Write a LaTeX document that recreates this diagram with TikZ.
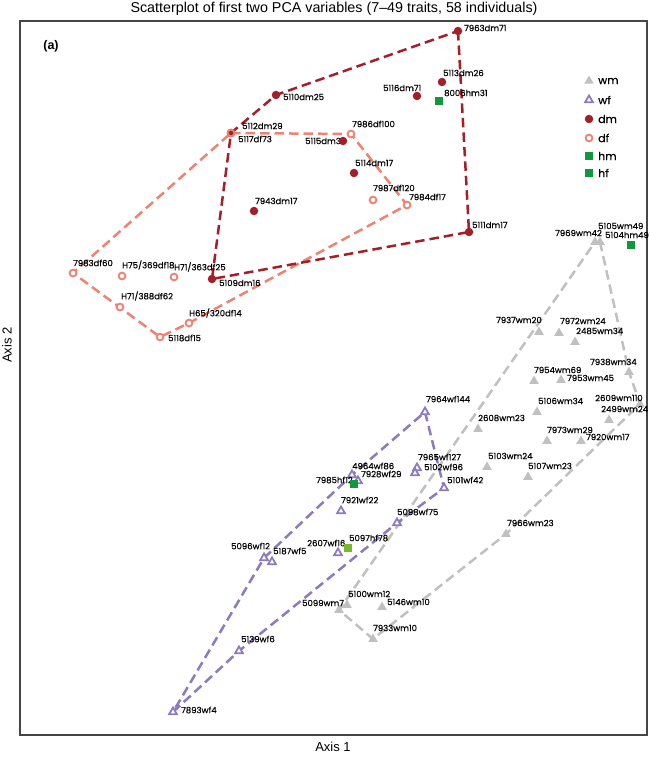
\documentclass[tikz,border=0pt]{standalone}
\usepackage{fontspec}
\setmainfont{Liberation Sans}
\newfontfamily\lblfont[FakeBold=0.5]{Poppins}
\usetikzlibrary{shapes.geometric}
\pgfdeclarelayer{bg}
\pgfsetlayers{bg,main}
\definecolor{dmc}{RGB}{163,31,42}
\definecolor{dfc}{RGB}{238,130,115}
\definecolor{wmc}{RGB}{192,192,192}
\definecolor{wfc}{RGB}{140,123,190}
\definecolor{hmc}{RGB}{16,152,62}
\definecolor{hfc}{RGB}{120,184,42}
\definecolor{framec}{RGB}{70,70,70}
\tikzset{
  mwm/.style={regular polygon, regular polygon sides=3, fill=wmc, inner sep=0pt, minimum size=11pt},
  mwf/.style={regular polygon, regular polygon sides=3, draw=wfc, line width=1.8pt, fill=white, inner sep=0pt, minimum size=9pt},
  mdm/.style={circle, fill=dmc, inner sep=0pt, minimum size=8.5pt},
  mdf/.style={circle, draw=dfc, line width=1.9pt, fill=white, inner sep=0pt, minimum size=6.8pt},
  mhm/.style={rectangle, fill=hmc, inner sep=0pt, minimum size=8.5pt},
  mhf/.style={rectangle, fill=hmc, inner sep=0pt, minimum size=8.5pt},
  lbl/.style={anchor=west, inner sep=0pt, text=black, font=\lblfont\fontsize{8.5}{9}\selectfont},
  legtxt/.style={anchor=west, inner sep=0pt, text=black, font=\lblfont\fontsize{11}{12}\selectfont},
  hull/.style={dash pattern=on 9.5pt off 5pt, line width=2.5pt},
  axtxt/.style={font=\fontsize{13}{15}\selectfont},
}
\begin{document}
\begin{tikzpicture}[x=1pt,y=-1pt]
\useasboundingbox (0,0) rectangle (650,757);
% frame and axis texts
\draw[framec, line width=1.3pt] (20,21) rectangle (647,735);
\node[font=\fontsize{14.3}{16}\selectfont] (title) at (334,9) {Scatterplot of first two PCA variables (7--49 traits, 58 individuals)};
\node[axtxt] (ax1) at (333,747) {Axis 1};
\node[axtxt, rotate=90] (ax2) at (7,345) {Axis 2};
\node[font=\bfseries\fontsize{12.5}{14}\selectfont] (panel) at (51,46) {(a)};

% ---- dm ----
\node[mdm] (d7963) at (458,31) {};  \node[lbl] (ld7963) at (464,28) {7963dm71};
\node[mdm] (d5113) at (442,82) {};  \node[lbl] (ld5113) at (443,73) {5113dm26};
\node[mdm] (d5116) at (417,96) {};  \node[lbl] (ld5116) at (383,88) {5116dm71};
\node[mdm] (d5110) at (276,95) {};  \node[lbl] (ld5110) at (283,97) {5110dm25};
\node[mdm] (d5112) at (231,133) {}; \node[lbl] (ld5112) at (242,126) {5112dm29};
\node[lbl] (ld5115) at (305,141) {5115dm33}; \node[mdm] (d5115) at (343,141) {};
\node[mdm] (d5114) at (354,173) {}; \node[lbl] (ld5114) at (355,163) {5114dm17};
\node[mdm] (d5111) at (469,232) {}; \node[lbl] (ld5111) at (472,225) {5111dm17};
\node[mdm] (d7943) at (254,211) {}; \node[lbl] (ld7943) at (255,201) {7943dm17};
\node[mdm] (d5109) at (212,279) {}; \node[lbl] (ld5109) at (219,283) {5109dm16};

% ---- df ----
\node[mdf, fill=none] (f5117) at (231,133) {}; \node[lbl] (lf5117) at (238,139) {5117df73};
\node[mdf] (f7986) at (351,134) {}; \node[lbl] (lf7986) at (352,124) {7986df100};
\node[mdf] (f7987) at (373,200) {}; \node[lbl] (lf7987) at (373,188) {7987df120};
\node[mdf] (f7984) at (407,205) {}; \node[lbl] (lf7984) at (409,197) {7984df17};
\node[mdf] (f7983) at (73,273) {};  \node[lbl] (lf7983) at (73,263) {7983df60};
\node[mdf] (fH75) at (122,276) {};  \node[lbl] (lfH75) at (122,265) {H75/369df18};
\node[mdf] (fH71a) at (174,277) {}; \node[lbl] (lfH71a) at (174,267) {H71/363df25};
\node[mdf] (fH71b) at (120,307) {}; \node[lbl] (lfH71b) at (121,296) {H71/388df62};
\node[mdf] (fH65) at (189,323) {};  \node[lbl] (lfH65) at (189,313) {H65/320df14};
\node[mdf] (f5118) at (160,337) {}; \node[lbl] (lf5118) at (168,338) {5118df15};

% ---- hm / hf ----
\node[mhm] (h8006) at (439,101) {}; \node[lbl] (lh8006) at (444,93) {8006hm31};
\node[mhm] (h5104) at (631,245) {}; \node[lbl] (lh5104) at (605,235) {5104hm49};

% ---- wm ----
\node[mwm] (m7969) at (595,242) {}; \node[lbl] (lm7969) at (555,233) {7969wm42};
\node[mwm] (m5105) at (600,242) {}; \node[lbl] (lm5105) at (598,226) {5105wm49};
\node[mwm] (m7937) at (539,332) {}; \node[lbl] (lm7937) at (496,320) {7937wm20};
\node[mwm] (m7972) at (559,333) {}; \node[lbl] (lm7972) at (560,321) {7972wm24};
\node[mwm] (m2485) at (575,342) {}; \node[lbl] (lm2485) at (576,331) {2485wm34};
\node[mwm] (m7938) at (629,372) {}; \node[lbl] (lm7938) at (590,362) {7938wm34};
\node[mwm] (m7954) at (534,381) {}; \node[lbl] (lm7954) at (534,370) {7954wm69};
\node[mwm] (m7953) at (561,380) {}; \node[lbl] (lm7953) at (567,378) {7953wm45};
\node[mwm] (m5106) at (537,412) {}; \node[lbl] (lm5106) at (538,401) {5106wm34};
\node[mwm] (m2609) at (640,404) {}; \node[lbl] (lm2609) at (595,398) {2609wm110};
\node[mwm] (m2499) at (609,420) {}; \node[lbl] (lm2499) at (601,409) {2499wm24};
\node[mwm] (m2608) at (478,429) {}; \node[lbl] (lm2608) at (478,418) {2608wm23};
\node[mwm] (m7973) at (547,441) {}; \node[lbl] (lm7973) at (547,430) {7973wm29};
\node[mwm] (m7920) at (581,441) {}; \node[lbl] (lm7920) at (586,437) {7920wm17};
\node[mwm] (m5103) at (487,467) {}; \node[lbl] (lm5103) at (488,456) {5103wm24};
\node[mwm] (m5107) at (528,477) {}; \node[lbl] (lm5107) at (528,466) {5107wm23};
\node[mwm] (m7966) at (506,534) {}; \node[lbl] (lm7966) at (507,523) {7966wm23};
\node[mwm] (m5100) at (347,605) {}; \node[lbl] (lm5100) at (348,594) {5100wm12};
\node[mwm] (m5099) at (339,610) {}; \node[lbl] (lm5099) at (302,603) {5099wm7};
\node[mwm] (m5146) at (382,607) {}; \node[lbl] (lm5146) at (387,602) {5146wm10};
\node[mwm] (m7933) at (373,639) {}; \node[lbl] (lm7933) at (373,628) {7933wm10};

% ---- wf ----
\node[mwf] (w7964) at (425,412) {}; \node[lbl] (lw7964) at (426,399) {7964wf144};
\node[mwf] (w7965) at (417,468) {}; \node[lbl] (lw7965) at (418,457) {7965wf127};
\node[mwf] (w5102) at (415,473) {}; \node[lbl] (lw5102) at (424,467) {5102wf96};
\node[mwf] (w5101) at (444,488) {}; \node[lbl] (lw5101) at (447,480) {5101wf42};
\node[mwf] (w4964) at (352,475) {}; \node[lbl] (lw4964) at (352,466) {4964wf86};
\node[mwf] (w7928) at (358,481) {}; \node[lbl] (lw7928) at (361,474) {7928wf29};
\node[lbl] (lh7985) at (316,480) {7985hf12}; \node[mhf] (h7985) at (354,484) {};
\node[mwf] (w7921) at (341,511) {}; \node[lbl] (lw7921) at (341,500) {7921wf22};
\node[mwf] (w5098) at (397,523) {}; \node[lbl] (lw5098) at (397,512) {5098wf75};
\node[mwf] (w2607) at (338,553) {}; \node[lbl] (lw2607) at (307,543) {2607wf16};
\node[mhf, fill=hfc] (h5097) at (348,548) {}; \node[lbl] (lh5097) at (349,538) {5097hf78};
\node[mwf] (w5096) at (264,558) {}; \node[lbl] (lw5096) at (231,546) {5096wf12};
\node[mwf] (w5187) at (272,562) {}; \node[lbl] (lw5187) at (273,551) {5187wf5};
\node[mwf] (w5139) at (239,651) {}; \node[lbl] (lw5139) at (241,639) {5139wf6};
\node[mwf] (w7893) at (173,712) {}; \node[lbl] (lw7893) at (181,710) {7893wf4};

% ---- hulls ----
\begin{pgfonlayer}{bg}
\draw[hull, dfc] (f5117.center) -- (f7986.center) -- (f7984.center) -- (fH65.center) -- (f5118.center) -- (f7983.center) -- cycle;
\draw[hull, dmc] (d7963.center) -- (d5111.center) -- (d5109.center) -- (d5112.center) -- (d5110.center) -- cycle;
\draw[hull, wmc] (m5105.center) -- (m7938.center) -- (m2609.center) -- (m7966.center) -- (m7933.center) -- (m5099.center) -- (m7969.center) -- cycle;
\draw[hull, wfc] (w7964.center) -- (w5101.center) -- (w5098.center) -- (w5139.center) -- (w7893.center) -- (w5096.center) -- (w4964.center) -- cycle;
\end{pgfonlayer}

% ---- legend ----
\node[mwm] (g1) at (589,81) {};  \node[legtxt] (t1) at (598,81) {wm};
\node[mwf] (g2) at (589,100) {}; \node[legtxt] (t2) at (598,100) {wf};
\node[mdm] (g3) at (589,119) {}; \node[legtxt] (t3) at (598,119) {dm};
\node[mdf] (g4) at (589,138) {}; \node[legtxt] (t4) at (598,138) {df};
\node[mhm] (g5) at (589,156) {}; \node[legtxt] (t5) at (598,156) {hm};
\node[mhf] (g6) at (589,173) {}; \node[legtxt] (t6) at (598,173) {hf};
\end{tikzpicture}
\end{document}
